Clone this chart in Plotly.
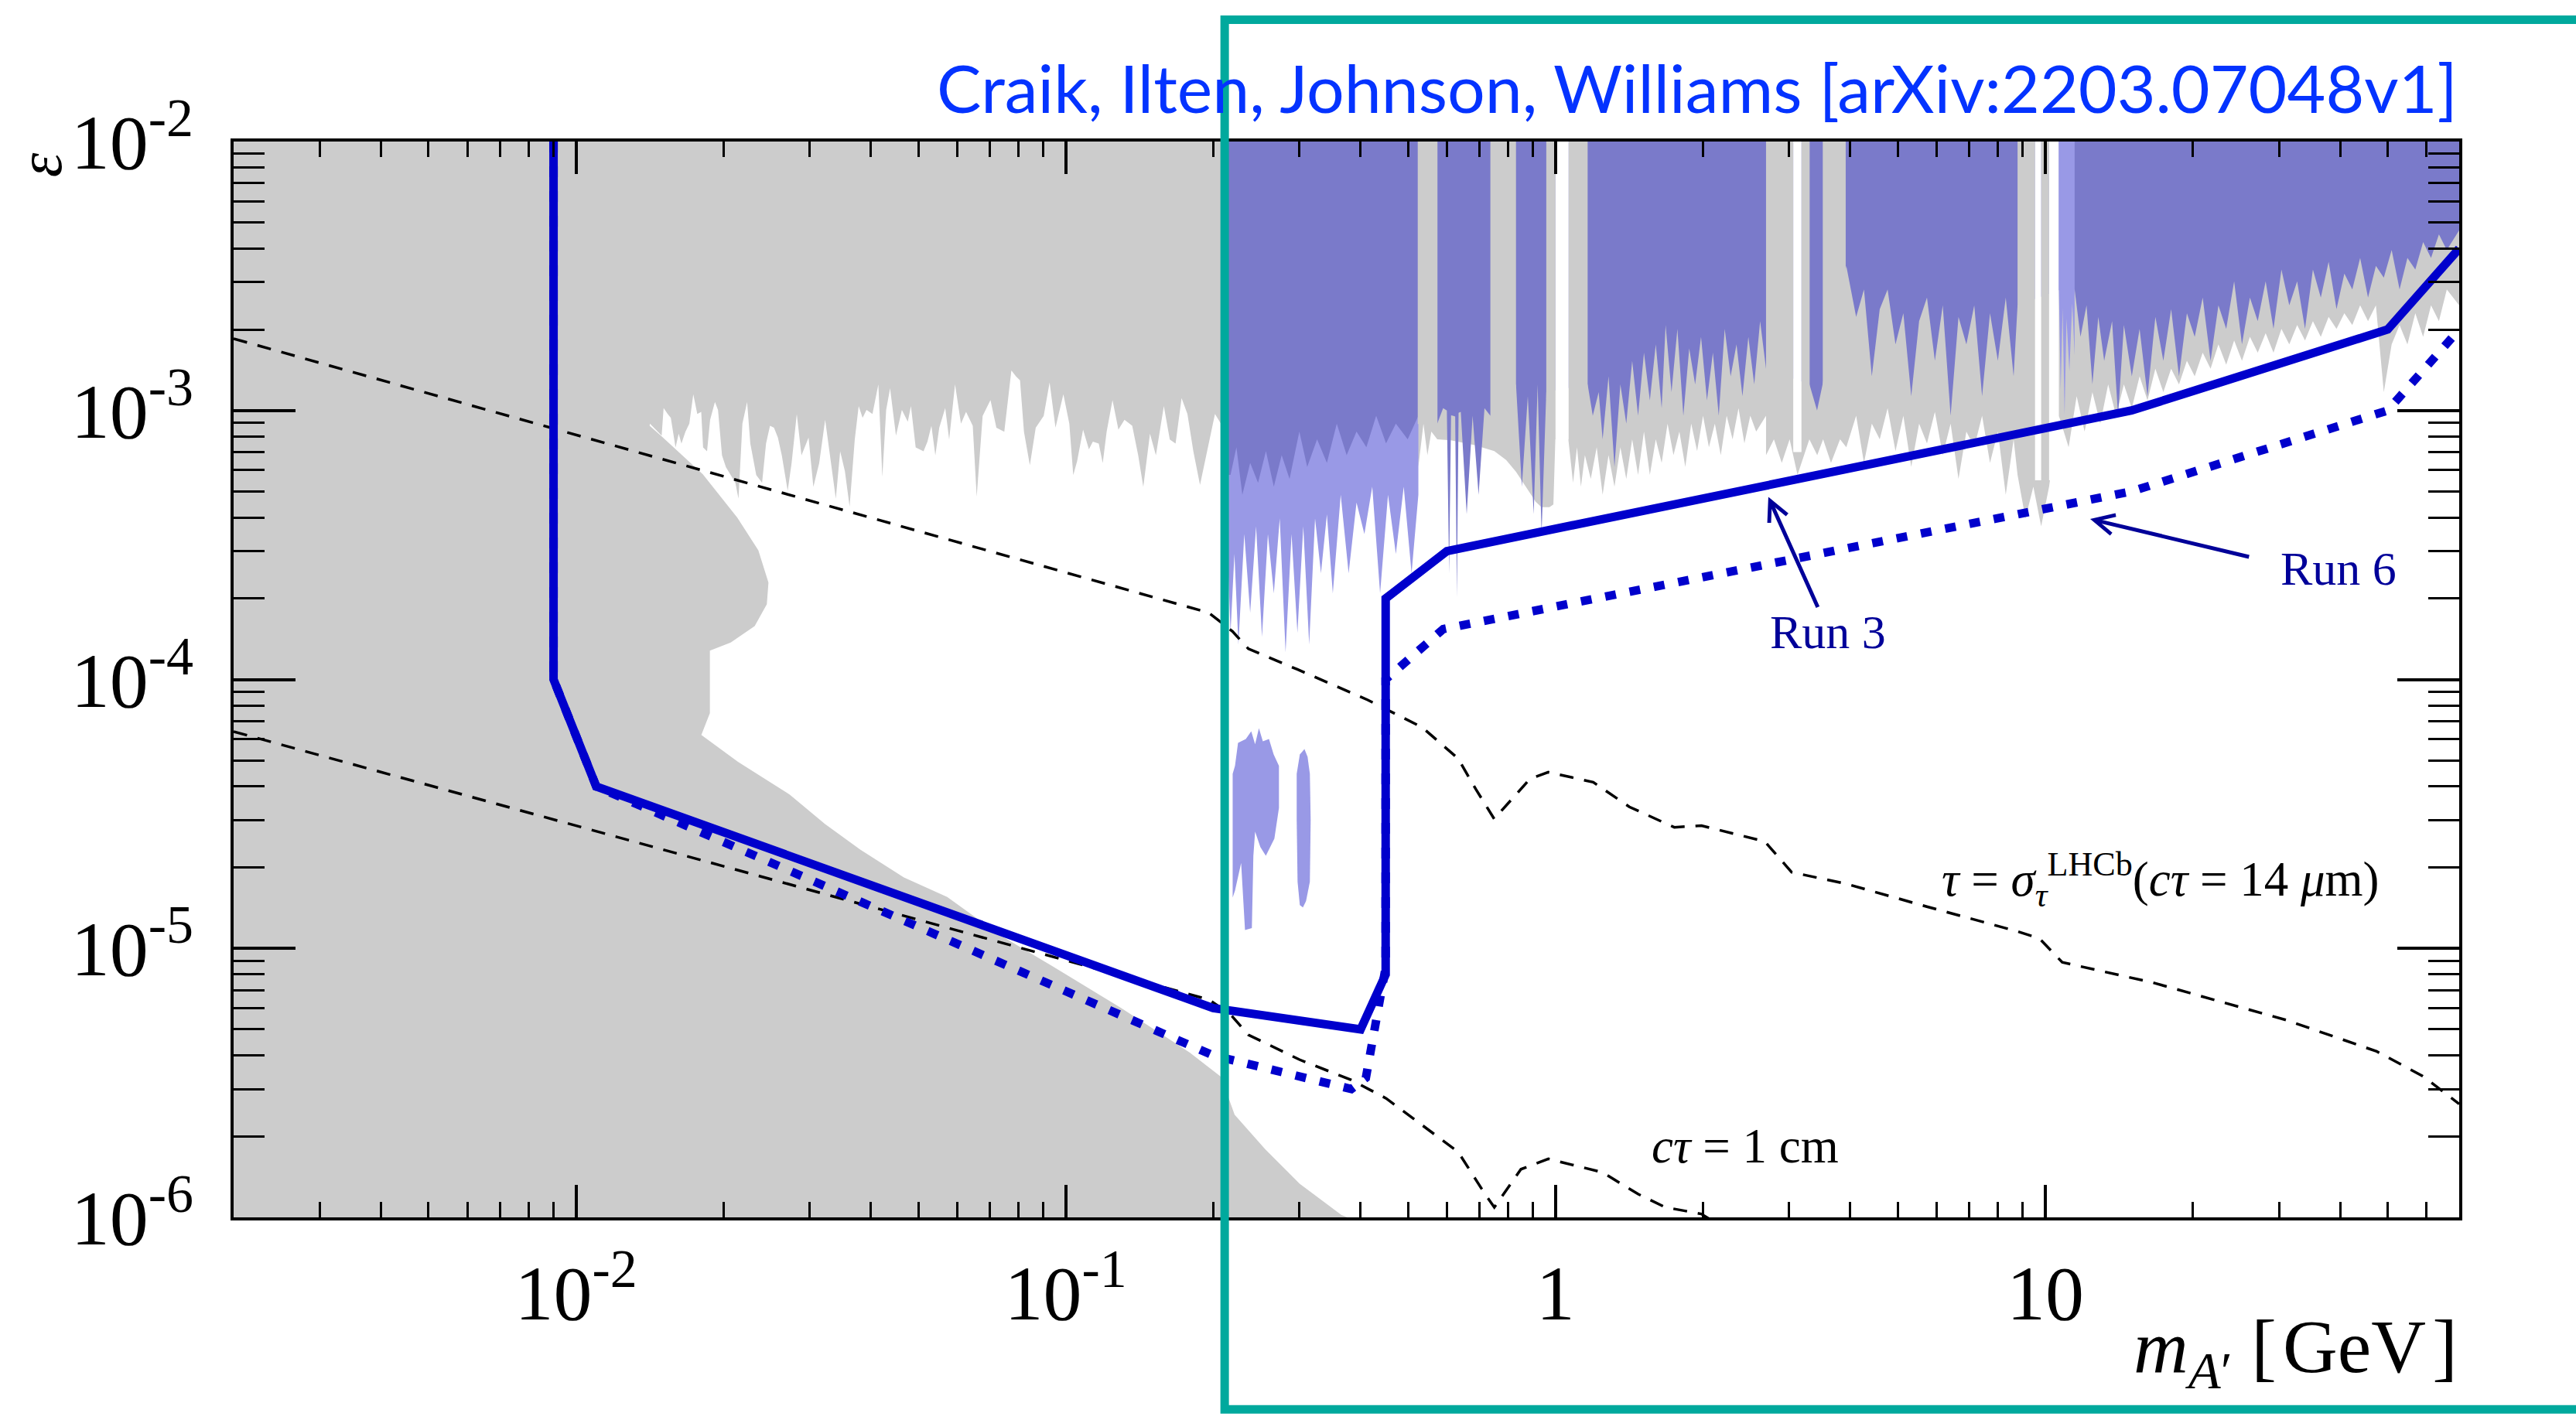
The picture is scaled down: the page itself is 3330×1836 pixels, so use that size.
import math
import plotly.graph_objects as go

# ---------------------------------------------------------------- data
X_MIN, X_MAX = 0.002, 70.0
Y_MIN, Y_MAX = 1e-6, 1e-2

# Run 3 projected reach (solid) and Run 6 (dotted)
RUN3_M = [0.009, 0.009, 0.011, 0.2, 0.40, 0.45, 0.45, 0.6, 15, 50, 70]
RUN3_EPS = [1e-2, 1e-4, 4e-5, 6e-6, 5e-6, 8e-6, 2e-4, 3e-4, 1e-3, 2e-3, 4e-3]
RUN6_M = [0.009, 0.009, 0.011, 0.2, 0.383, 0.41, 0.45, 0.45, 0.59, 15, 50, 70]
RUN6_EPS = [1e-2, 1e-4, 4e-5, 4e-6, 3.0e-6, 3.3e-6, 8.5e-6, 1e-4, 1.54e-4, 5e-4, 1e-3, 2e-3]

# lifetime contours (dashed)
TAU_M = [0.002, 0.196, 0.219, 0.236, 0.297, 0.4136, 0.534, 0.6326, 0.688, 0.7496, 0.887, 0.9667,
         1.194, 1.415, 1.748, 1.986, 2.674, 3.034, 3.914, 5.73, 8.727, 9.72, 10.83, 16.54, 31.1,
         47.5, 59.0, 70]
TAU_EPS = [1.85e-3, 1.77e-4, 1.51e-4, 1.30e-4, 1.09e-4, 8.39e-5, 6.64e-5, 5.08e-5, 3.9e-5, 3.03e-5,
           4.27e-5, 4.52e-5, 4.15e-5, 3.36e-5, 2.82e-5, 2.86e-5, 2.5e-5, 1.92e-5, 1.74e-5, 1.43e-5,
           1.16e-5, 1.09e-5, 8.88e-6, 7.47e-6, 5.41e-6, 4.14e-6, 3.35e-6, 2.64e-6]
CM_M = [0.002, 0.196, 0.217, 0.236, 0.300, 0.383, 0.451, 0.557, 0.633, 0.718, 0.75, 0.85, 0.967,
        1.247, 1.476, 1.676, 1.985, 2.13, 2.6]
CM_EPS = [6.4e-5, 6.45e-6, 5.68e-6, 4.77e-6, 3.86e-6, 3.24e-6, 2.77e-6, 2.09e-6, 1.75e-6, 1.22e-6,
          1.09e-6, 1.51e-6, 1.65e-6, 1.47e-6, 1.22e-6, 1.09e-6, 1.03e-6, 9.5e-7, 9.0e-7]

# existing limits (gray): jagged prompt-search boundary at low mass
BABAR_M = [0.01416, 0.01496, 0.01510, 0.01539, 0.01562, 0.01597, 0.01621, 0.01642, 0.01673, 0.01704,
           0.01736, 0.01769, 0.01802, 0.01818, 0.01852, 0.01879, 0.01922, 0.01950, 0.01987, 0.02024,
           0.02069, 0.02116, 0.02147, 0.02187, 0.02236, 0.02270, 0.02334, 0.02399, 0.02444, 0.02490,
           0.02537, 0.02584, 0.02632, 0.02706, 0.02756, 0.02824, 0.02887, 0.02985, 0.03053, 0.03138,
           0.03227, 0.03287, 0.03393, 0.03463, 0.03541, 0.03620, 0.03709, 0.03778, 0.03848, 0.03920,
           0.04031, 0.04144, 0.04222, 0.04299, 0.04379, 0.04502, 0.04629, 0.04759, 0.04830, 0.04939,
           0.05125, 0.05220, 0.05318, 0.05417, 0.05518, 0.05675, 0.05781, 0.05943, 0.06111, 0.06259,
           0.06459, 0.06580, 0.06766, 0.07020, 0.07218, 0.07491, 0.07745, 0.07918, 0.08066, 0.08217,
           0.08448, 0.08685, 0.09016, 0.09270, 0.09530, 0.09890, 0.1017, 0.1036, 0.1055, 0.1085,
           0.1115, 0.1136, 0.1168, 0.1190, 0.1212, 0.1246, 0.1281, 0.1318, 0.1367, 0.1406,
           0.1440, 0.1486, 0.1528, 0.1586, 0.1631, 0.1676, 0.1724, 0.1772, 0.1822, 0.1880,
           0.1944, 0.2017, 0.2074]
BABAR_EPS = [8.93e-4, 8.06e-4, 1.022e-3, 9.71e-4, 9.39e-4, 7.29e-4, 8.20e-4, 7.54e-4, 8.34e-4, 8.93e-4,
             1.150e-3, 9.71e-4, 9.88e-4, 7.29e-4, 7.05e-4, 9.23e-4, 1.075e-3, 1.005e-3, 6.81e-4, 6.16e-4,
             5.75e-4, 5.38e-4, 4.70e-4, 8.93e-4, 1.075e-3, 7.54e-4, 5.75e-4, 5.38e-4, 7.54e-4, 8.78e-4,
             8.63e-4, 7.93e-4, 6.81e-4, 5.03e-4, 6.37e-4, 9.71e-4, 6.81e-4, 7.93e-4, 5.20e-4, 6.37e-4,
             9.23e-4, 7.05e-4, 4.70e-4, 7.05e-4, 5.95e-4, 4.39e-4, 7.80e-4, 1.039e-3, 9.39e-4, 1.005e-3,
             9.71e-4, 1.251e-3, 5.66e-4, 1.005e-3, 1.209e-3, 8.06e-4, 1.005e-3, 9.08e-4, 1.039e-3, 7.29e-4,
             7.05e-4, 7.66e-4, 8.78e-4, 6.81e-4, 8.63e-4, 1.022e-3, 7.80e-4, 1.251e-3, 8.93e-4, 9.88e-4,
             8.78e-4, 4.78e-4, 9.55e-4, 1.093e-3, 8.63e-4, 8.34e-4, 1.408e-3, 1.338e-3, 1.294e-3, 8.34e-4,
             6.26e-4, 8.63e-4, 9.55e-4, 1.272e-3, 8.63e-4, 1.150e-3, 8.93e-4, 5.75e-4, 6.48e-4, 8.49e-4,
             7.17e-4, 7.66e-4, 7.54e-4, 6.37e-4, 8.34e-4, 1.093e-3, 8.49e-4, 9.23e-4, 8.78e-4, 6.81e-4,
             5.20e-4, 8.20e-4, 6.81e-4, 1.039e-3, 7.80e-4, 7.54e-4, 1.112e-3, 9.71e-4, 7.05e-4, 5.29e-4,
             7.05e-4, 9.71e-4, 8.93e-4]
# beam-dump / supernova style lower-left boundary
BULGE_M = [0.01414, 0.01498, 0.01816, 0.02135, 0.02357, 0.02472, 0.02453, 0.02317, 0.0207, 0.01877,
           0.01877, 0.01803, 0.02142, 0.02733, 0.03226, 0.03806, 0.04673, 0.05728, 0.06529, 0.0733,
           0.0938, 0.1297, 0.1792, 0.2075, 0.2212, 0.2555, 0.3003, 0.3657, 0.376]
BULGE_EPS = [8.78e-4, 8.0e-4, 5.79e-4, 3.995e-4, 3.02e-4, 2.29e-4, 1.904e-4, 1.579e-4, 1.372e-4, 1.279e-4,
             7.5e-5, 6.22e-5, 4.94e-5, 3.73e-5, 2.9e-5, 2.33e-5, 1.836e-5, 1.552e-5, 1.311e-5, 1.123e-5,
             8.6e-6, 6.01e-6, 4.1e-6, 3.33e-6, 2.41e-6, 1.79e-6, 1.334e-6, 1.02e-6, 1.0e-6]
# gray lower edge above 0.2 GeV
GRAYR_M = [0.21, 0.52, 0.5248, 0.5375, 0.5476, 0.5578, 0.5735, 0.6116, 0.6836, 0.75,
           0.7929, 0.8305, 0.8697, 0.911, 0.9365, 0.9719, 0.9901, 0.9993, 1.0622, 1.086,
           1.1063, 1.127, 1.1482, 1.1803, 1.2138, 1.248, 1.2831, 1.3195, 1.3566, 1.3948,
           1.434, 1.4743, 1.5157, 1.5583, 1.6022, 1.6473, 1.6936, 1.7413, 1.7902, 1.8408,
           1.8928, 1.9459, 2.0009, 2.0571, 2.1152, 2.1749, 2.2359, 2.2991, 2.3641, 2.4304,
           2.4988, 2.5689, 2.6905, 2.6906, 2.7922, 2.8973, 3.0061, 3.1198, 3.2984, 3.4227,
           3.5187, 3.6516, 3.8107, 3.924, 4.11, 4.264, 4.424, 4.592, 4.765, 4.945,
           5.131, 5.325, 5.526, 5.734, 5.951, 6.175, 6.408, 6.65, 6.901, 7.161,
           7.43, 7.711, 8.002, 8.304, 8.617, 8.778, 9.11, 9.454, 9.808, 10.18,
           10.66, 11.16, 11.59, 12.03, 12.48, 12.95, 13.44, 13.95, 14.47, 15.02,
           15.58, 16.17, 16.78, 17.42, 18.07, 18.75, 19.46, 20.19, 20.96, 21.75,
           22.57, 23.41, 24.3, 25.21, 26.17, 27.15, 28.18, 29.24, 30.35, 31.49,
           32.68, 33.91, 35.19, 36.52, 37.89, 39.32, 40.8, 42.35, 43.94, 45.6,
           47.32, 49.11, 50.96, 52.89, 54.88, 56.95, 59.09, 61.32, 63.64, 66.04,
           70]
GRAYR_EPS = [9.0e-4, 9.0e-4, 6.17e-4, 8.94e-4, 6.82e-4, 8.35e-4, 7.81e-4, 7.75e-4, 7.43e-4, 7.06e-4,
             6.55e-4, 5.92e-4, 5.21e-4, 4.58e-4, 4.37e-4, 4.37e-4, 4.47e-4, 7.81e-4, 7.81e-4, 5.38e-4,
             7.30e-4, 5.21e-4, 6.82e-4, 5.57e-4, 7.30e-4, 4.86e-4, 6.82e-4, 5.21e-4, 7.30e-4, 5.57e-4,
             7.81e-4, 5.76e-4, 8.35e-4, 5.76e-4, 7.81e-4, 6.38e-4, 8.94e-4, 6.82e-4, 8.35e-4, 6.17e-4,
             8.94e-4, 7.06e-4, 9.56e-4, 7.30e-4, 8.94e-4, 6.82e-4, 9.56e-4, 7.81e-4, 1.02e-3, 7.55e-4,
             9.56e-4, 8.35e-4, 9.56e-4, 6.82e-4, 7.81e-4, 6.38e-4, 7.81e-4, 5.76e-4, 7.81e-4, 6.82e-4,
             7.81e-4, 6.38e-4, 7.81e-4, 7.30e-4, 9.56e-4, 6.38e-4, 8.94e-4, 7.81e-4, 1.02e-3, 7.06e-4,
             9.56e-4, 6.17e-4, 8.94e-4, 7.55e-4, 9.89e-4, 6.82e-4, 8.94e-4, 5.57e-4, 8.35e-4, 7.30e-4,
             9.56e-4, 6.38e-4, 8.35e-4, 4.86e-4, 7.81e-4, 5.76e-4, 3.97e-4, 5.21e-4, 3.71e-4, 5.21e-4,
             9.56e-4, 7.30e-4, 1.13e-3, 8.35e-4, 1.17e-3, 8.94e-4, 1.25e-3, 9.56e-4, 1.25e-3, 1.02e-3,
             1.34e-3, 1.09e-3, 1.43e-3, 1.17e-3, 1.43e-3, 1.25e-3, 1.53e-3, 1.34e-3, 1.64e-3, 1.43e-3,
             1.76e-3, 1.48e-3, 1.82e-3, 1.53e-3, 1.88e-3, 1.64e-3, 1.94e-3, 1.64e-3, 2.01e-3, 1.76e-3,
             2.08e-3, 1.82e-3, 2.15e-3, 1.88e-3, 2.23e-3, 2.01e-3, 2.30e-3, 2.08e-3, 2.46e-3, 2.15e-3,
             2.46e-3, 1.17e-3, 1.76e-3, 2.08e-3, 1.76e-3, 2.30e-3, 1.88e-3, 2.46e-3, 2.15e-3, 2.82e-3,
             2.46e-3]

# LHCb existing limits (purple): lower edge
DARK_M = [0.2140, 0.2170, 0.2231, 0.2294, 0.2380, 0.2470, 0.2563, 0.2660, 0.2760, 0.2864,
          0.2999, 0.3112, 0.3260, 0.3414, 0.3576, 0.3746, 0.3924, 0.4110, 0.4304, 0.4508,
          0.4721, 0.4991, 0.5248, 0.5735, 0.5896, 0.600, 0.6064, 0.612, 0.6173, 0.624,
          0.6290, 0.634, 0.6406, 0.6587, 0.6772, 0.6966, 0.7161, 0.7362, 0.8305, 0.8537,
          0.8779, 0.9025, 0.9194, 0.9365, 0.9576, 1.1631, 1.1915, 1.2251, 1.2480, 1.2831,
          1.3195, 1.3566, 1.3948, 1.4340, 1.4743, 1.5157, 1.5583, 1.6022, 1.6473, 1.6780,
          1.7253, 1.7737, 1.8239, 1.8750, 1.9281, 1.9821, 2.0382, 2.0958, 2.1544, 2.2154,
          2.2780, 2.3419, 2.4081, 2.4759, 2.5453, 2.6168, 2.6905, 3.30, 3.42, 3.51,
          3.924, 4.110, 4.264, 4.424, 4.592, 4.765, 4.945, 5.131, 5.325, 5.526,
          5.734, 5.951, 6.175, 6.408, 6.650, 6.901, 7.161, 7.430, 7.711, 8.002,
          8.304, 8.617, 8.778, 10.66, 11.48, 11.80, 12.14, 12.48, 12.83, 13.19,
          13.69, 14.08, 14.47, 15.02, 15.58, 16.17, 16.78, 17.42, 18.07, 18.75,
          19.46, 20.19, 20.96, 21.75, 22.57, 23.41, 24.30, 25.21, 26.17, 27.15,
          28.18, 29.24, 30.35, 31.49, 32.68, 33.91, 35.19, 36.52, 37.89, 39.32,
          40.80, 42.35, 43.94, 45.60, 47.32, 49.11, 50.96, 52.89, 54.88, 56.95,
          59.09, 61.32, 63.64, 66.04, 70]
DARK_EPS = [5.76e-4, 5.76e-4, 7.30e-4, 4.86e-4, 6.38e-4, 5.38e-4, 7.06e-4, 5.21e-4, 6.82e-4, 5.57e-4,
            8.35e-4, 6.17e-4, 7.81e-4, 6.38e-4, 8.94e-4, 6.82e-4, 8.35e-4, 7.30e-4, 9.56e-4, 7.55e-4,
            8.94e-4, 7.81e-4, 9.56e-4, 8.94e-4, 1.02e-3, 1.0e-3, 2.48e-4, 9.6e-4, 9.56e-4, 9.5e-4,
            2.02e-4, 9.8e-4, 9.89e-4, 4.11e-4, 9.56e-4, 4.86e-4, 1.02e-3, 9.56e-4, 1.25e-3, 5.21e-4,
            1.13e-3, 4.11e-4, 1.25e-3, 3.47e-4, 1.17e-3, 1.25e-3, 9.56e-4, 1.17e-3, 7.81e-4, 1.34e-3,
            6.17e-4, 1.25e-3, 8.94e-4, 1.53e-3, 9.56e-4, 1.64e-3, 1.09e-3, 1.76e-3, 1.02e-3, 2.08e-3,
            1.17e-3, 2.01e-3, 9.56e-4, 1.70e-3, 1.25e-3, 1.88e-3, 1.09e-3, 1.64e-3, 9.56e-4, 2.01e-3,
            1.34e-3, 1.76e-3, 1.13e-3, 1.88e-3, 1.25e-3, 2.15e-3, 1.43e-3, 1.25e-3, 1.0e-3, 1.25e-3,
            3.45e-3, 2.23e-3, 2.82e-3, 1.34e-3, 2.38e-3, 2.82e-3, 1.76e-3, 2.30e-3, 1.13e-3, 2.15e-3,
            2.63e-3, 1.53e-3, 2.46e-3, 9.56e-4, 2.23e-3, 1.76e-3, 2.46e-3, 1.13e-3, 2.30e-3, 1.53e-3,
            2.63e-3, 1.34e-3, 2.46e-3, 2.8e-3, 2.82e-3, 1.88e-3, 2.46e-3, 1.25e-3, 2.23e-3, 1.53e-3,
            2.15e-3, 9.56e-4, 2.08e-3, 1.34e-3, 2.01e-3, 1.13e-3, 2.23e-3, 1.53e-3, 2.38e-3, 1.34e-3,
            2.30e-3, 1.88e-3, 2.63e-3, 1.53e-3, 2.46e-3, 2.01e-3, 3.02e-3, 1.76e-3, 2.63e-3, 2.15e-3,
            3.02e-3, 2.01e-3, 3.34e-3, 2.46e-3, 3.02e-3, 2.01e-3, 3.34e-3, 2.63e-3, 3.57e-3, 2.38e-3,
            3.23e-3, 2.82e-3, 3.69e-3, 2.63e-3, 3.45e-3, 3.12e-3, 3.95e-3, 2.82e-3, 3.69e-3, 3.34e-3,
            4.23e-3, 3.69e-3, 4.52e-3, 3.95e-3, 4.68e-3]
# lighter purple spikes below the dark band
LIGHT_M = [0.2140, 0.2170, 0.2210, 0.2252, 0.2315, 0.2380, 0.2447, 0.2516, 0.2587, 0.2660,
           0.2735, 0.2811, 0.2891, 0.2972, 0.3055, 0.3141, 0.3229, 0.3320, 0.3414, 0.3510,
           0.3643, 0.3781, 0.3924, 0.4072, 0.4225, 0.4384, 0.4550, 0.4721, 0.4899, 0.5083, 0.5248]
LIGHT_EPS = [3.0e-4, 1.49e-4, 2.93e-4, 1.35e-4, 3.47e-4, 1.77e-4, 3.71e-4, 1.44e-4, 3.47e-4, 2.09e-4,
             3.97e-4, 1.26e-4, 3.47e-4, 1.49e-4, 3.71e-4, 1.35e-4, 3.97e-4, 2.48e-4, 4.11e-4, 2.09e-4,
             4.86e-4, 2.48e-4, 4.55e-4, 3.47e-4, 5.21e-4, 2.09e-4, 4.86e-4, 2.93e-4, 5.21e-4, 2.48e-4, 4.86e-4]
# gray / white gaps in the purple band (mass windows)
GSTRIP_LO = [0.5233, 0.7362, 0.9576, 1.0636, 2.6905, 3.178, 3.513, 8.778, 9.808]
GSTRIP_HI = [0.5741, 0.8305, 1.0, 1.1631, 3.058, 3.303, 3.913, 9.53, 10.18]
GSTRIP_BOT = [8.9e-4, 9.5e-4, 1.1e-3, 1.1e-3, 1.2e-3, 1.2e-3, 1.2e-3, 2.4e-3, 2.4e-3]
WSTRIP_LO = [1.0, 3.058, 9.53, 10.18]
WSTRIP_HI = [1.0636, 3.178, 9.808, 10.66]
WSTRIP_BOT = [7.8e-4, 7.0e-4, 5.5e-4, 5.5e-4]
LSTRIP_M = [10.66, 10.66, 10.75, 10.85, 10.95, 11.05, 11.2, 11.35, 11.48, 11.48]
LSTRIP_EPS = [1e-2, 2.8e-3, 1.2e-3, 2.4e-3, 9.6e-4, 2.2e-3, 1.4e-3, 2.5e-3, 1.6e-3, 1e-2]
# isolated light-purple islands
ISL1_M = [0.2192, 0.2192, 0.2216, 0.2248, 0.2332, 0.2392, 0.2436, 0.2480, 0.2526, 0.2600, 0.2658,
          0.2725, 0.2725, 0.2667, 0.2562, 0.2497, 0.2436, 0.2416, 0.2399, 0.2323, 0.2281, 0.2216]
ISL1_EPS = [1.546e-5, 4.46e-5, 4.77e-5, 5.81e-5, 6.01e-5, 6.42e-5, 5.74e-5, 6.59e-5, 5.89e-5, 6.01e-5,
            5.26e-5, 4.77e-5, 3.33e-5, 2.56e-5, 2.21e-5, 2.38e-5, 2.72e-5, 2.21e-5, 1.19e-5, 1.17e-5,
            2.08e-5, 1.64e-5]
ISL2_M = [0.2962, 0.3006, 0.3072, 0.3117, 0.3151, 0.3163, 0.3151, 0.3095, 0.3050, 0.3006, 0.2974, 0.2962]
ISL2_EPS = [4.46e-5, 5.26e-5, 5.51e-5, 5.16e-5, 4.46e-5, 3.0e-5, 1.77e-5, 1.50e-5, 1.42e-5, 1.45e-5,
            1.77e-5, 3.0e-5]

X_TICKS = [0.01, 0.1, 1, 10]
X_TICK_TEXT = ["10<sup>-2</sup>", "10<sup>-1</sup>", "1", "10"]
Y_TICKS = [1e-6, 1e-5, 1e-4, 1e-3, 1e-2]
Y_TICK_TEXT = ["10<sup>-6</sup>", "10<sup>-5</sup>", "10<sup>-4</sup>", "10<sup>-3</sup>", "10<sup>-2</sup>"]

# annotation anchor points (GeV, epsilon)
RUN3_LABEL = (3.60, 1.50e-4)
RUN3_ARROW_TAIL = (3.44, 1.84e-4)
RUN3_ARROW_HEAD = (2.72, 4.77e-4)
RUN6_LABEL = (39.7, 2.59e-4)
RUN6_ARROW_TAIL = (26.2, 2.85e-4)
RUN6_ARROW_HEAD = (12.35, 3.95e-4)
TAU_LABEL = (17.2, 1.80e-5)
CM_LABEL = (2.44, 1.84e-6)

# ---------------------------------------------------------------- style
GRAY = "#cccccc"
PURPLE = "#7a7aca"
LIGHT = "#9999e6"
BLUE = "#0000cc"
NAVY = "#000099"
TEAL = "#00a99d"
SERIF = "Liberation Serif"

fig = go.Figure()


def add_fill(xs, ys, color):
    fig.add_trace(go.Scatter(x=xs, y=ys, mode="lines", fill="toself", fillcolor=color,
                             line=dict(width=0, color=color), hoverinfo="skip", showlegend=False))


def add_line(xs, ys, color, width, dash="solid"):
    fig.add_trace(go.Scatter(x=xs, y=ys, mode="lines", line=dict(color=color, width=width, dash=dash),
                             hoverinfo="skip", showlegend=False))


# gray excluded region
gx = [X_MIN, X_MAX] + GRAYR_M[::-1] + BABAR_M[::-1] + BULGE_M + [X_MIN]
gy = [Y_MAX, Y_MAX] + GRAYR_EPS[::-1] + BABAR_EPS[::-1] + BULGE_EPS + [Y_MIN]
add_fill(gx, gy, GRAY)

# purple LHCb limits
add_fill(LIGHT_M + [LIGHT_M[-1], LIGHT_M[0]], LIGHT_EPS + [Y_MAX, Y_MAX], LIGHT)
add_fill(DARK_M + [DARK_M[-1], DARK_M[0]], DARK_EPS + [Y_MAX, Y_MAX], PURPLE)
for lo, hi, bot in zip(GSTRIP_LO, GSTRIP_HI, GSTRIP_BOT):
    add_fill([lo, hi, hi, lo], [Y_MAX, Y_MAX, bot, bot], GRAY)
for lo, hi, bot in zip(WSTRIP_LO, WSTRIP_HI, WSTRIP_BOT):
    add_fill([lo, hi, hi, lo], [Y_MAX, Y_MAX, bot, bot], "white")
add_fill(LSTRIP_M, LSTRIP_EPS, LIGHT)
add_fill(ISL1_M, ISL1_EPS, LIGHT)
add_fill(ISL2_M, ISL2_EPS, LIGHT)

# dashed lifetime contours
add_line(TAU_M, TAU_EPS, "black", 3.5, "18px,14px")
add_line(CM_M, CM_EPS, "black", 3.5, "18px,14px")

# projections
add_line(RUN6_M, RUN6_EPS, BLUE, 11, "14px,18px")
add_line(RUN3_M, RUN3_EPS, BLUE, 11)

L = math.log10
ann = []
ann.append(dict(text="Craik, Ilten, Johnson, Williams [arXiv:2203.07048v1]", xref="paper", yref="paper",
                x=1.0, y=1.0508, xanchor="right", yanchor="middle", showarrow=False,
                font=dict(family="Lato", size=86, color="#0433ff")))
ann.append(dict(text="<i>m</i><sub><i>A</i>′</sub> [\u200aGeV\u200a]", xref="paper", yref="paper",
                x=1.0, y=-0.1253, xanchor="right", yanchor="middle", showarrow=False,
                font=dict(family=SERIF, size=98, color="black")))
ann.append(dict(text="<i>ε</i>", xref="paper", yref="paper", x=-0.087, y=0.978, textangle=-90,
                xanchor="center", yanchor="middle", showarrow=False,
                font=dict(family=SERIF, size=80, color="black")))
for txt, pos in (("Run 3", RUN3_LABEL), ("Run 6", RUN6_LABEL)):
    ann.append(dict(text=txt, x=L(pos[0]), y=L(pos[1]), xref="x", yref="y", showarrow=False,
                    xanchor="center", yanchor="middle", font=dict(family=SERIF, size=62, color=NAVY)))
for tail, head in ((RUN3_ARROW_TAIL, RUN3_ARROW_HEAD), (RUN6_ARROW_TAIL, RUN6_ARROW_HEAD)):
    ann.append(dict(text="", x=L(head[0]), y=L(head[1]), ax=L(tail[0]), ay=L(tail[1]),
                    xref="x", yref="y", axref="x", ayref="y", showarrow=True, arrowhead=5,
                    arrowsize=1, arrowwidth=5, arrowcolor=NAVY, standoff=0, startstandoff=0))
ann.append(dict(text="<i>τ</i> = <i>σ</i><sub><i>τ</i></sub><sup>LHCb</sup>(<i>cτ</i> = 14 <i>μ</i>m)",
                x=L(TAU_LABEL[0]), y=L(TAU_LABEL[1]), xref="x", yref="y", showarrow=False,
                xanchor="center", yanchor="middle", font=dict(family=SERIF, size=63, color="black")))
ann.append(dict(text="<i>cτ</i> = 1 cm", x=L(CM_LABEL[0]), y=L(CM_LABEL[1]), xref="x", yref="y",
                showarrow=False, xanchor="center", yanchor="middle",
                font=dict(family=SERIF, size=63, color="black")))


def minor_vals(lo_dec, hi_dec):
    return [m * 10.0 ** d for d in range(lo_dec, hi_dec + 1) for m in range(2, 10)]


axis_common = dict(type="log", showgrid=False, zeroline=False, showline=True, linecolor="black",
                   linewidth=4, mirror="ticks", ticks="inside", tickcolor="black", tickwidth=3.5,
                   tickmode="array", tickfont=dict(family=SERIF, size=100, color="black"))
fig.update_xaxes(**axis_common, range=[L(X_MIN), L(X_MAX)], tickvals=X_TICKS, ticktext=X_TICK_TEXT,
                 ticklen=42, ticklabelstandoff=8,
                 minor=dict(ticks="inside", ticklen=20, tickwidth=3, tickcolor="black",
                            tickmode="array", tickvals=minor_vals(-3, 1), showgrid=False))
fig.update_yaxes(**axis_common, range=[L(Y_MIN), L(Y_MAX)], tickvals=Y_TICKS, ticktext=Y_TICK_TEXT,
                 ticklen=80, ticklabelstandoff=28,
                 minor=dict(ticks="inside", ticklen=40, tickwidth=3, tickcolor="black",
                            tickmode="array", tickvals=minor_vals(-6, -3), showgrid=False))

fig.update_layout(width=3330, height=1836, plot_bgcolor="white", paper_bgcolor="white",
                  margin=dict(l=302, r=151, t=183, b=262, pad=0, autoexpand=False),
                  showlegend=False, annotations=ann,
                  shapes=[dict(type="rect", xref="paper", yref="paper", x0=0.4453, x1=1.06,
                               y0=-0.1785, y1=1.1133, line=dict(color=TEAL, width=11),
                               fillcolor="rgba(0,0,0,0)", layer="above")])

fig.write_html("out.html")
